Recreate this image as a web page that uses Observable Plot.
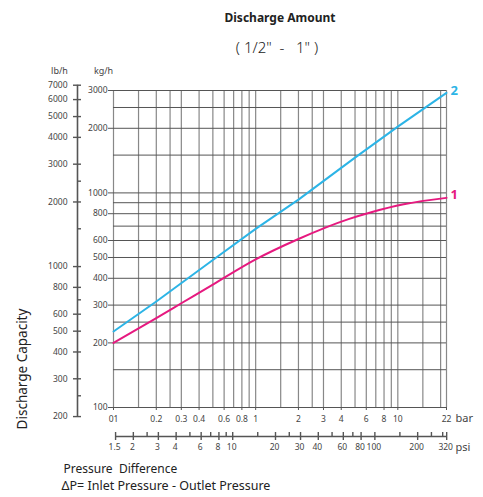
<!DOCTYPE html>
<html><head><meta charset="utf-8">
<script src="https://cdn.jsdelivr.net/npm/d3@7"></script>
<script src="https://cdn.jsdelivr.net/npm/@observablehq/plot@0.6"></script>
<style>body{margin:0;background:#fff;font-family:"Noto Sans",sans-serif}</style>
</head><body><div id="chart"></div>
<script>
// --- data ---
const barGrid = [0.1,0.15,0.2,0.25,0.3,0.4,0.5,0.6,0.7,0.8,0.9,1,1.5,2,2.5,3,4,5,6,7,8,9,10,15,20,22];
const barTicks = [0.1,0.2,0.3,0.4,0.6,0.8,1,2,3,4,6,8,10,22];
const barLabels = ["01","0.2","0.3","0.4","0.6","0.8","1","2","3","4","6","8","10","22"];
const psiTicks = [1.5,2,3,4,6,8,10,20,30,40,60,80,100,200,320];
const psiMinor = [2.5,5,7,9,15,25,50,70,150,250,300];
const kgGrid = [100,150,200,250,300,400,500,600,700,800,900,1000,1500,2000,2500,3000];
const kgTicks = [100,200,300,400,500,600,800,1000,2000,3000];
const lbTicks = [200,300,400,500,600,800,1000,2000,3000,4000,5000,6000,7000];
const lbMinor = [250,700,1500,2500];
const series1Bar = [0.1,0.2,0.3,0.5,1,2,4.5,6.6,11,22];
const series1Kg  = [200,261,306,374,490,610,755,815,885,948];
const series2Bar = [0.1,0.2,0.5,1,2,5,10,22];
const series2Kg  = [226,312,487,680,930,1460,2035,2925];
const LB_PER_KG = 2.20462;
const PSI_PER_BAR = 14.5038;

const blue = "#2cb4e6", pink = "#e6197f", axisC = "#555", textC = "#444";
const s1 = series1Bar.map((p,i)=>({p, kg: series1Kg[i]}));
const s2 = series2Bar.map((p,i)=>({p, kg: series2Kg[i]}));
const X0 = () => 0.1, Y0 = () => 100;

const plot = Plot.plot({
  width: 483, height: 497,
  marginLeft: 113, marginRight: 37, marginTop: 90, marginBottom: 90,
  style: {fontFamily: "Noto Sans, sans-serif", fontSize: "8.5px", color: textC, background: "#fff", overflow: "visible"},
  x: {type: "log", domain: [0.1, 22], axis: null},
  y: {type: "log", domain: [100, 3000], axis: null},
  marks: [
    Plot.ruleX(barGrid, {stroke: "#888", strokeWidth: 1.2}),
    Plot.ruleY(kgGrid, {stroke: "#555", strokeWidth: 1}),
    // kg/h axis
    Plot.ruleY(kgTicks, {x1: X0, x2: X0, insetLeft: -5, stroke: axisC}),
    Plot.text(kgTicks, {x: X0, y: d => d, text: d => String(d), dx: -6, textAnchor: "end", fontSize: 8.5, fill: textC}),
    // lb/h axis
    Plot.ruleX([0.1], {y1: () => 200 / LB_PER_KG, y2: () => 7000 / LB_PER_KG, dx: -36, stroke: axisC, strokeWidth: 1.6}),
    Plot.ruleY(lbTicks, {y: d => d / LB_PER_KG, x1: X0, x2: X0, dx: -36, insetLeft: -4, insetRight: -4, stroke: axisC, strokeWidth: 1.4}),
    Plot.ruleY(lbMinor, {y: d => d / LB_PER_KG, x1: X0, x2: X0, dx: -36, insetLeft: 0, insetRight: -4, stroke: axisC, strokeWidth: 1.4}),
    Plot.text(lbTicks, {x: X0, y: d => d / LB_PER_KG, text: d => String(d), dx: -46, textAnchor: "end", fontSize: 8.5, fill: textC}),
    // bar axis
    Plot.ruleX(barTicks, {y1: Y0, y2: Y0, insetBottom: -3, stroke: axisC}),
    Plot.text(barTicks, {x: d => d, y: Y0, text: (d, i) => barLabels[i], dy: 12, fontSize: 8.5, fill: textC}),
    // psi axis
    Plot.ruleY([100], {x1: () => 1.5 / PSI_PER_BAR, x2: () => 320 / PSI_PER_BAR, dy: 29, stroke: axisC, strokeWidth: 1.6}),
    Plot.ruleX(psiTicks, {x: d => d / PSI_PER_BAR, y1: Y0, y2: Y0, dy: 29, insetTop: -4, insetBottom: -4, stroke: axisC, strokeWidth: 1.4}),
    Plot.ruleX(psiMinor, {x: d => d / PSI_PER_BAR, y1: Y0, y2: Y0, dy: 29, insetTop: -4, insetBottom: 0, stroke: axisC, strokeWidth: 1.4}),
    Plot.text(psiTicks, {x: d => d / PSI_PER_BAR, y: Y0, text: d => String(d), dy: 40, dx: -1, fontSize: 8.5, fill: textC}),
    // curves
    Plot.line(s2, {x: "p", y: "kg", stroke: blue, strokeWidth: 2}),
    Plot.line(s1, {x: "p", y: "kg", stroke: pink, strokeWidth: 2, curve: "monotone-x"}),
    Plot.text([s2[s2.length-1]], {x: "p", y: "kg", text: () => "2", fill: blue, fontSize: 13, fontWeight: "bold", textAnchor: "start", dx: 4, dy: -2}),
    Plot.text([s1[s1.length-1]], {x: "p", y: "kg", text: () => "1", fill: pink, fontSize: 13, fontWeight: "bold", textAnchor: "start", dx: 4, dy: -3}),
    // units
    Plot.text(["bar"], {x: () => 22, y: Y0, text: d => d, dx: 9, dy: 11, textAnchor: "start", fontSize: 11, fill: textC}),
    Plot.text(["psi"], {x: () => 22, y: Y0, text: d => d, dx: 9, dy: 40, textAnchor: "start", fontSize: 11, fill: textC}),
    // titles
    Plot.text(["Discharge Amount"], {frameAnchor: "top", text: d => d, dy: -77, fontSize: 12, fontWeight: "bold", fill: "#222"}),
    Plot.text(["( 1/2\"  -   1\" )"], {frameAnchor: "top", text: d => d, dy: -48, dx: -3, fontSize: 15, fontWeight: 300, fill: "#222"}),
    Plot.text(["lb/h"], {frameAnchor: "top-left", text: d => d, textAnchor: "middle", dx: -54, dy: -23, fontSize: 9, fill: textC}),
    Plot.text(["kg/h"], {frameAnchor: "top-left", text: d => d, textAnchor: "middle", dx: -10, dy: -23, fontSize: 9, fill: textC}),
    Plot.text(["Discharge Capacity"], {frameAnchor: "left", text: d => d, textAnchor: "middle", rotate: -90, dx: -91, dy: 120, fontSize: 13.5, fill: "#222"}),
    Plot.text(["Pressure  Difference"], {frameAnchor: "bottom-left", text: d => d, textAnchor: "start", dx: -50, dy: 65, fontSize: 12, fill: "#222"}),
    Plot.text(["ΔP= Inlet Pressure - Outlet Pressure"], {frameAnchor: "bottom-left", text: d => d, textAnchor: "start", dx: -52, dy: 82, fontSize: 12.5, fill: "#222"})
  ]
});
document.getElementById("chart").append(plot);
</script>
</body></html>
